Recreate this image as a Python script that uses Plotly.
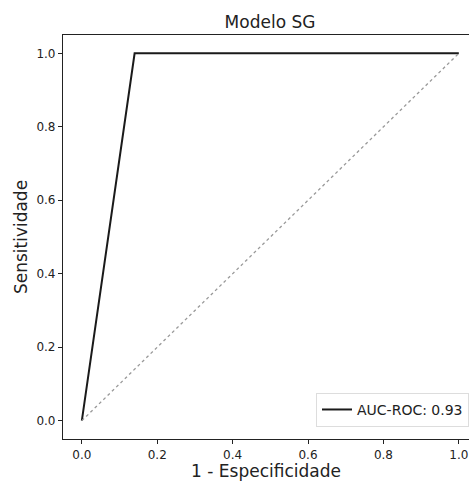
import plotly.graph_objects as go

fpr = [0.0, 0.14, 1.0]
tpr = [0.0, 1.0, 1.0]
diag_x = [0.0, 1.0]
diag_y = [0.0, 1.0]
auc_label = "AUC-ROC: 0.93"
ticks = [0.0, 0.2, 0.4, 0.6, 0.8, 1.0]
tick_text = ["0.0", "0.2", "0.4", "0.6", "0.8", "1.0"]

FONT = "DejaVu Sans"

fig = go.Figure()
fig.add_trace(go.Scatter(x=fpr, y=tpr, mode="lines", name=auc_label,
                         line=dict(color="#1a1a1a", width=2)))
fig.add_trace(go.Scatter(x=diag_x, y=diag_y, mode="lines", showlegend=False,
                         line=dict(color="#999999", width=1.3, dash="dot")))

axis_common = dict(showgrid=False, zeroline=False, showline=True, linecolor="#222",
                   linewidth=1.2, ticks="outside", ticklen=4, tickcolor="#222",
                   tickfont=dict(family=FONT, size=12, color="#222"),
                   tickvals=ticks, ticktext=tick_text)

fig.update_layout(
    width=469, height=481,
    margin=dict(l=63, r=0, t=35, b=42),
    paper_bgcolor="white", plot_bgcolor="white",
    title=dict(text="Modelo SG", x=270/469, xanchor="center", xref="container",
               y=1-22/481, yanchor="middle",
               font=dict(family=FONT, size=17, color="#222")),
    xaxis=dict(range=[-0.05, 1.027], mirror=True,
               title=dict(text="1 - Especificidade", standoff=0,
                          font=dict(family=FONT, size=17, color="#222")),
               **axis_common),
    yaxis=dict(range=[-0.05, 1.05], mirror=False,
               title=dict(text="Sensitividade", standoff=4,
                          font=dict(family=FONT, size=17, color="#222")),
               **axis_common),
    legend=dict(x=1.0, y=0.03, xanchor="right", yanchor="bottom",
                bgcolor="white", bordercolor="#dddddd", borderwidth=1,
                font=dict(family=FONT, size=14, color="#222")),
)

fig.write_html("out.html")
